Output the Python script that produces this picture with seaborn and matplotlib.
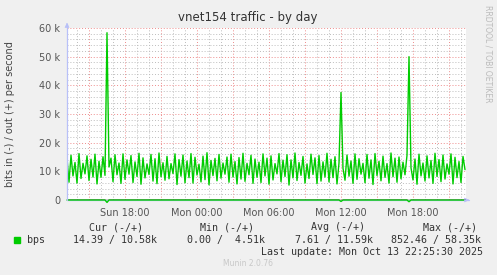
import numpy as np
import pandas as pd
import matplotlib
matplotlib.use("Agg")
import matplotlib.pyplot as plt
import seaborn as sns
from matplotlib.ticker import FixedLocator, MultipleLocator

# ---------------- data (kbps, 10-minute samples, hours relative to Mon 00:00) ----------------
start_hour = -10.833
step_hour = 1.0 / 6.0

out_kbps = [
    14.8, 6.2, 15.6, 8.4, 13.1, 5.9, 16.2, 7.5, 12.8, 9.1,
    15.4, 6.8, 14.2, 8.0, 16.0, 5.6, 13.5, 7.9, 15.1, 8.6,
    58.35, 11.5, 14.6, 6.4, 15.8, 8.8, 12.9, 5.8, 16.1, 7.2,
    14.0, 9.0, 15.5, 6.1, 13.3, 8.2, 16.3, 5.5, 14.7, 7.7,
    12.6, 8.9, 15.9, 6.6, 14.4, 5.7, 16.4, 8.1, 13.0, 6.9,
    15.2, 7.4, 12.7, 9.2, 16.1, 5.4, 14.1, 8.3, 15.7, 6.0,
    13.6, 7.8, 16.2, 5.9, 14.9, 8.7, 12.5, 6.3, 15.3, 7.1,
    16.5, 5.3, 13.8, 8.5, 14.5, 6.7, 15.9, 7.6, 12.9, 9.0,
    15.0, 6.2, 16.0, 8.0, 13.4, 5.6, 14.8, 7.3, 16.3, 6.5,
    12.8, 8.8, 15.6, 5.8, 14.3, 7.9, 13.2, 6.1, 16.1, 8.4,
    14.6, 5.5, 15.4, 7.0, 12.7, 9.1, 16.2, 6.4, 13.9, 8.2,
    15.8, 5.2, 14.0, 7.7, 16.4, 6.8, 13.1, 8.6, 15.2, 5.9,
    12.6, 7.5, 16.0, 8.9, 14.7, 5.7, 15.5, 6.6, 13.3, 8.0,
    16.3, 6.3, 14.2, 7.8, 15.1, 5.6, 12.9, 37.5, 11.0, 6.9,
    15.7, 8.3, 13.6, 5.8, 16.1, 7.2, 14.4, 9.0, 12.8, 6.0,
    15.9, 7.6, 14.0, 5.4, 16.2, 8.5, 13.5, 6.7, 15.3, 7.9,
    12.7, 5.9, 16.4, 8.1, 14.6, 6.2, 15.0, 7.4, 13.2, 8.8,
    15.6, 50.0, 11.2, 7.0, 14.3, 5.5, 16.0, 8.4, 12.9, 6.6,
    15.4, 7.7, 13.8, 5.8, 16.3, 8.2, 14.1, 6.4, 15.7, 7.3,
    12.6, 9.0, 16.1, 5.6, 14.9, 7.8, 13.4, 6.1, 15.2, 10.58,
]

in_kbps = [
    0, 0, 0, 0, 0, 0, 0, 0, 0, 0, 0, 0, 0, 0, 0, 0, 0, 0, 0, 0,
    0.85, 0, 0, 0, 0, 0, 0, 0, 0, 0, 0, 0, 0, 0, 0, 0, 0, 0, 0, 0,
    0, 0, 0, 0, 0, 0, 0, 0, 0, 0, 0, 0, 0, 0, 0, 0, 0, 0, 0, 0,
    0, 0, 0, 0, 0, 0, 0, 0, 0, 0, 0, 0, 0, 0, 0, 0, 0, 0, 0, 0,
    0, 0, 0, 0, 0, 0, 0, 0, 0, 0, 0, 0, 0, 0, 0, 0, 0, 0, 0, 0,
    0, 0, 0, 0, 0, 0, 0, 0, 0, 0, 0, 0, 0, 0, 0, 0, 0, 0, 0, 0,
    0, 0, 0, 0, 0, 0, 0, 0, 0, 0, 0, 0, 0, 0, 0, 0, 0, 0.5, 0, 0,
    0, 0, 0, 0, 0, 0, 0, 0, 0, 0, 0, 0, 0, 0, 0, 0, 0, 0, 0, 0,
    0, 0, 0, 0, 0, 0, 0, 0, 0, 0, 0, 0.6, 0, 0, 0, 0, 0, 0, 0, 0,
    0, 0, 0, 0, 0, 0, 0, 0, 0, 0, 0, 0, 0, 0, 0, 0, 0, 0, 0, 0.01,
]

x_tick_hours = [-6, 0, 6, 12, 18]
x_tick_labels = ["Sun 18:00", "Mon 00:00", "Mon 06:00", "Mon 12:00", "Mon 18:00"]
y_ticks = [0, 10, 20, 30, 40, 50, 60]
y_tick_labels = ["0", "10 k", "20 k", "30 k", "40 k", "50 k", "60 k"]

legend_headers = ["Cur (-/+)", "Min (-/+)", "Avg (-/+)", "Max (-/+)"]
legend_values = ["14.39 / 10.58k", "0.00 /  4.51k", "7.61 / 11.59k", "852.46 / 58.35k"]

# ---------------- figure ----------------
sns.set_style("white")
plt.rcParams["font.family"] = ["DejaVu Sans"]

W, H = 497, 275
fig = plt.figure(figsize=(W / 100, H / 100), dpi=100, facecolor="#F0F0F0")

def px(x, y):
    return x / W, 1 - y / H

L, R, T, B = 67, 466, 28, 200
ax = fig.add_axes([L / W, 1 - B / H, (R - L) / W, (B - T) / H])
ax.set_facecolor("white")

n = len(out_kbps)
hours = [start_hour + i * step_hour for i in range(n)]
df = pd.DataFrame({"hour": hours, "out": out_kbps, "neg_in": [-v for v in in_kbps]})

sns.lineplot(data=df, x="hour", y="neg_in", color="#00CC00", lw=1.0,
             estimator=None, ax=ax, clip_on=False, zorder=3)
sns.lineplot(data=df, x="hour", y="out", color="#00CC00", lw=1.0,
             estimator=None, ax=ax, zorder=4)

ax.set_xlim(-10.833, 22.417)
ax.set_ylim(0, 60)

# grids
maj_x = list(range(-9, 23, 3))
ax.xaxis.set_major_locator(FixedLocator(maj_x))
ax.set_xticklabels([x_tick_labels[x_tick_hours.index(h)] if h in x_tick_hours else "" for h in maj_x])
ax.xaxis.set_minor_locator(MultipleLocator(1))
ax.yaxis.set_major_locator(FixedLocator(y_ticks))
ax.set_yticklabels(y_tick_labels)
ax.yaxis.set_minor_locator(MultipleLocator(2))

ax.grid(which="minor", color="#BDBDBD", linestyle=(0, (1, 2)), lw=0.7, zorder=0)
ax.grid(which="major", color="#EE8C8C", linestyle=(0, (1, 2)), lw=0.7, zorder=1)
ax.set_axisbelow(True)

ax.tick_params(axis="both", which="major", labelsize=7, labelcolor="#555555",
               length=2, width=0.7, color="#EE8C8C", pad=3, direction="out")
ax.tick_params(axis="both", which="minor", length=2, width=0.7, color="#BBBBBB", direction="out")
ax.tick_params(axis="x", pad=4)

for s in ax.spines.values():
    s.set_visible(False)

ax.set_xlabel("")
ax.set_ylabel("")

# zero line
ax.axhline(0, color="black", lw=1.0, zorder=5)

# axis arrows (light blue)
axis_col = "#B8C0F8"
fig.add_artist(plt.Line2D([L / W, L / W], [1 - B / H, 1 - 24 / H], color=axis_col, lw=0.9))
fig.add_artist(plt.Line2D([L / W, 469 / W], [1 - B / H, 1 - B / H], color=axis_col, lw=0.9, zorder=0))
ax.annotate("", xy=px(L, 20), xycoords="figure fraction", xytext=px(L, 27),
            textcoords="figure fraction",
            arrowprops=dict(arrowstyle="-|>", color=axis_col, lw=0.5, mutation_scale=7))
ax.annotate("", xy=px(472, B), xycoords="figure fraction", xytext=px(465, B),
            textcoords="figure fraction",
            arrowprops=dict(arrowstyle="-|>", color=axis_col, lw=0.5, mutation_scale=7))

# title & labels
fig.text(*px(248, 17), "vnet154 traffic - by day", ha="center", va="center",
         fontsize=8.5, color="#333333")
fig.text(*px(10, 114), "bits in (-) / out (+) per second", rotation=90,
         ha="center", va="center", fontsize=7, color="#444444")
fig.text(*px(488, 5), "RRDTOOL / TOBI OETIKER", rotation=270, ha="center", va="top",
         fontsize=5.5, color="#BBBBBB")

# legend (monospace)
mono = dict(family="DejaVu Sans Mono", fontsize=7.2, color="#333333", va="center")
for txt, x in zip(legend_headers, [89.3, 200.3, 311.3, 422.7]):
    fig.text(*px(x, 227.5), txt, ha="left", **mono)
fig.add_artist(plt.Rectangle(px(14, 242.7), 6 / W, 5.4 / H, color="#00CC00",
                             transform=fig.transFigure))
fig.text(*px(26.7, 239.8), "bps", ha="left", **mono)
for txt, x in zip(legend_values, [72.7, 186.7, 294.7, 390.7]):
    fig.text(*px(x, 239.8), txt, ha="left", **mono)
fig.text(*px(482.7, 251.7), "Last update: Mon Oct 13 22:25:30 2025", ha="right", **mono)
fig.text(*px(248, 264), "Munin 2.0.76", ha="center", va="center", fontsize=5.5,
         color="#C8C8C8")

fig.savefig("out.png", dpi=100, facecolor=fig.get_facecolor())
